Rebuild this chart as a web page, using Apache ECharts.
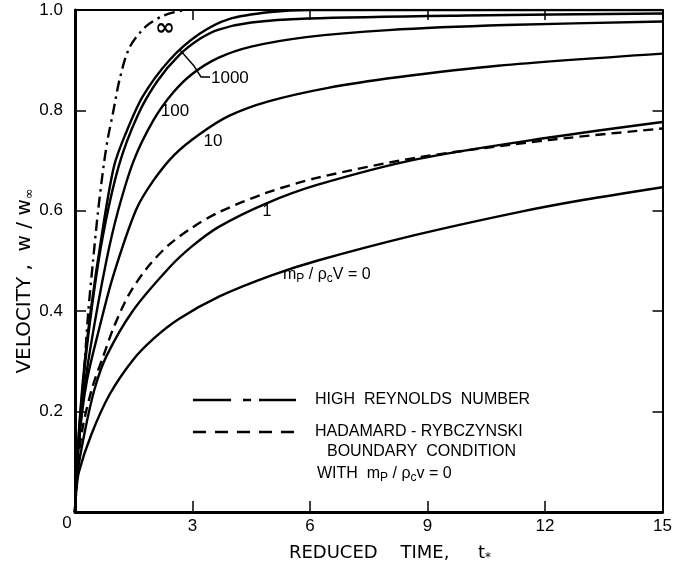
<!DOCTYPE html>
<html>
<head>
<meta charset="utf-8">
<script src="https://cdn.jsdelivr.net/npm/echarts@6/dist/echarts.min.js"></script>
<style>
html,body{margin:0;padding:0;background:#fff;}
#chart{width:675px;height:571px;}
</style>
</head>
<body>
<div id="chart"></div>
<script>
// ---- data (reduced time t*, velocity w/w_inf) ----
const xTicks = [0, 3, 6, 9, 12, 15];
const yTicks = [0, 0.2, 0.4, 0.6, 0.8, 1.0];

const highRe = [[0,0],[0.1,0.13],[0.25,0.30],[0.34,0.40],[0.46,0.50],[0.59,0.60],[0.74,0.695],[0.84,0.745],[0.97,0.795],[1.14,0.862],[1.39,0.925],[1.82,0.968],[2.3,0.99],[2.8,1.0]];
const massInf = [[0,0],[0.05,0.1],[0.2,0.26],[0.4,0.40],[0.7,0.56],[1.0,0.69],[1.3,0.755],[1.73,0.828],[2.41,0.9],[3.17,0.952],[3.93,0.982],[5,0.996],[6,1.0],[15,1.0]];
const mass1000 = [[0,0],[0.05,0.1],[0.2,0.25],[0.4,0.39],[0.7,0.545],[1.12,0.69],[1.6,0.79],[2.1,0.858],[2.66,0.91],[3.2,0.943],[3.67,0.961],[4.5,0.975],[5.95,0.983],[10,0.989],[15,0.993]];
const mass100 = [[0,0],[0.05,0.09],[0.2,0.22],[0.4,0.33],[0.8,0.50],[1.1,0.60],[1.5,0.70],[2.0,0.78],[2.5,0.835],[3.0,0.873],[3.67,0.905],[4.5,0.927],[5.9,0.946],[8,0.96],[11,0.97],[15,0.977]];
const mass10 = [[0,0],[0.1,0.14],[0.3,0.26],[0.63,0.369],[0.97,0.469],[1.56,0.602],[2.0,0.66],[2.53,0.711],[3.17,0.752],[3.93,0.789],[4.94,0.818],[6.46,0.845],[8.23,0.866],[10.8,0.889],[15,0.913]];
const mass1 = [[0,0],[0.05,0.07],[0.25,0.16],[0.5,0.245],[0.8,0.31],[1.47,0.40],[2.41,0.487],[3.0,0.53],[3.67,0.568],[4.86,0.614],[6.2,0.652],[8.74,0.703],[12.1,0.746],[15,0.777]];
const mass0 = [[0,0],[0.03,0.04],[0.1,0.08],[0.42,0.155],[0.89,0.235],[1.48,0.303],[2.0,0.345],[2.66,0.385],[3.7,0.43],[5,0.471],[6.2,0.501],[8.7,0.552],[11.3,0.597],[13,0.622],[15,0.647]];
const hadamard = [[0,0],[0.05,0.08],[0.2,0.17],[0.45,0.25],[0.72,0.31],[1.0,0.37],[1.39,0.435],[1.9,0.492],[2.41,0.533],[3.0,0.567],[3.67,0.597],[4.86,0.635],[6.2,0.666],[8.74,0.706],[12.1,0.741],[15,0.764]];

const FONT = 'Liberation Sans, Arial, sans-serif';
const TFONT = 'DejaVu Sans';
const LW = 2.4;

function curve(name, data, dash) {
  return {
    name: name, type: 'line', data: data, xAxisIndex: 0, yAxisIndex: 0,
    showSymbol: false, symbol: 'none', smooth: 0.3,
    lineStyle: { color: '#000', width: LW, type: dash || 'solid', cap: 'butt' },
    silent: true, z: 3
  };
}

const chart = echarts.init(document.getElementById('chart'), null, {renderer: 'canvas'});

const axisCommon = { type: 'value', min: 0, splitLine: { show: false } };
const sub = { fontSize: 13, fontFamily: TFONT, fill: '#000', lineHeight: 13, padding: [10,0,0,0] };

const option = {
  backgroundColor: '#fff',
  animation: false,
  grid: { left: 75, right: 8, top: 10, bottom: 59, containLabel: false },
  xAxis: [
    Object.assign({}, axisCommon, {
      max: 15, interval: 3, position: 'bottom',
      axisLine: { show: true, onZero: false, lineStyle: { color: '#000', width: 3 } },
      axisTick: { show: true, inside: true, length: 11, lineStyle: { color: '#000', width: 1.5 } },
      axisLabel: { show: true, color: '#000', fontSize: 17, fontFamily: FONT, margin: 6,
        formatter: v => (v === 0 ? '' : String(v)) }
    }),
    Object.assign({}, axisCommon, {
      max: 15, interval: 3, position: 'top',
      axisLine: { show: true, onZero: false, lineStyle: { color: '#000', width: 2 } },
      axisTick: { show: true, inside: true, length: 10, lineStyle: { color: '#000', width: 1.5 } },
      axisLabel: { show: false }
    })
  ],
  yAxis: [
    Object.assign({}, axisCommon, {
      max: 1, interval: 0.2, position: 'left',
      axisLine: { show: true, onZero: false, lineStyle: { color: '#000', width: 3 } },
      axisTick: { show: true, inside: true, length: 11, lineStyle: { color: '#000', width: 1.5 } },
      axisLabel: { show: true, color: '#000', fontSize: 17, fontFamily: FONT, margin: 12,
        formatter: v => (v === 0 ? '' : v.toFixed(1)) }
    }),
    Object.assign({}, axisCommon, {
      max: 1, interval: 0.2, position: 'right',
      axisLine: { show: true, onZero: false, lineStyle: { color: '#000', width: 2 } },
      axisTick: { show: true, inside: true, length: 10, lineStyle: { color: '#000', width: 1.5 } },
      axisLabel: { show: false }
    })
  ],
  series: [
    curve('HIGH REYNOLDS NUMBER', highRe, [11, 5, 2.5, 5]),
    curve('∞', massInf),
    curve('1000', mass1000),
    curve('100', mass100),
    curve('10', mass10),
    curve('1', mass1),
    curve('0', mass0),
    curve('HADAMARD - RYBCZYNSKI', hadamard, [10, 6])
  ],
  graphic: [
    { type: 'text', x: 67, y: 523, style: { text: '0', font: '17px ' + FONT, fill: '#000', textAlign: 'center', textVerticalAlign: 'middle' } },
    { type: 'text', x: 390, y: 553, style: {
        text: '{a|REDUCED    TIME,     t}{s|*}', textAlign: 'center', textVerticalAlign: 'middle',
        rich: { a: { fontSize: 18, fontFamily: TFONT, fill: '#000', lineHeight: 22 },
                s: { fontSize: 12, fontFamily: TFONT, fill: '#000', lineHeight: 12, padding: [9,0,0,0] } } } },
    { type: 'text', x: 25, y: 281, rotation: Math.PI / 2, style: {
        text: '{a|VELOCITY ,  w / w}{s|∞}', textAlign: 'center', textVerticalAlign: 'middle',
        rich: { a: { fontSize: 20, fontFamily: TFONT, fill: '#000', lineHeight: 23 }, s: sub } } },
    { type: 'text', x: 165, y: 29, style: { text: '∞', font: 'bold 24px DejaVu Sans', fill: '#000', textAlign: 'center', textVerticalAlign: 'middle' } },
    { type: 'polyline', shape: { points: [[180, 50], [194, 66], [201, 77], [210, 77]] }, style: { stroke: '#000', lineWidth: 1.4, fill: null } },
    { type: 'text', x: 211, y: 78, style: { text: '1000', font: '17px ' + FONT, fill: '#000', textAlign: 'left', textVerticalAlign: 'middle' } },
    { type: 'text', x: 175, y: 111, style: { text: '100', font: '17px ' + FONT, fill: '#000', textAlign: 'center', textVerticalAlign: 'middle' } },
    { type: 'text', x: 213, y: 141, style: { text: '10', font: '17px ' + FONT, fill: '#000', textAlign: 'center', textVerticalAlign: 'middle' } },
    { type: 'text', x: 267, y: 212, style: { text: '1', font: '16px ' + FONT, fill: '#000', textAlign: 'center', textVerticalAlign: 'middle' } },
    { type: 'text', x: 283, y: 275, style: {
        text: '{a|m}{s|P}{a| / ρ}{s|c}{a|V = 0}', textAlign: 'left', textVerticalAlign: 'middle',
        rich: { a: { fontSize: 16, fontFamily: FONT, fill: '#000', lineHeight: 18 },
                s: { fontSize: 12, fontFamily: FONT, fill: '#000', lineHeight: 11, padding: [7,0,0,0] } } } },
    { type: 'line', shape: { x1: 193, y1: 400, x2: 296, y2: 400 }, style: { stroke: '#000', lineWidth: LW, lineDash: [38, 12, 8, 8] } },
    { type: 'text', x: 315, y: 400, style: { text: 'HIGH  REYNOLDS  NUMBER', font: '16px ' + FONT, fill: '#000', textAlign: 'left', textVerticalAlign: 'middle' } },
    { type: 'line', shape: { x1: 193, y1: 432, x2: 296, y2: 432 }, style: { stroke: '#000', lineWidth: LW, lineDash: [13, 9] } },
    { type: 'text', x: 315, y: 432, style: { text: 'HADAMARD - RYBCZYNSKI', font: '16px ' + FONT, fill: '#000', textAlign: 'left', textVerticalAlign: 'middle' } },
    { type: 'text', x: 327, y: 452, style: { text: 'BOUNDARY  CONDITION', font: '16px ' + FONT, fill: '#000', textAlign: 'left', textVerticalAlign: 'middle' } },
    { type: 'text', x: 317, y: 474, style: {
        text: '{a|WITH  m}{s|P}{a| / ρ}{s|c}{a|v = 0}', textAlign: 'left', textVerticalAlign: 'middle',
        rich: { a: { fontSize: 16, fontFamily: FONT, fill: '#000', lineHeight: 18 },
                s: { fontSize: 12, fontFamily: FONT, fill: '#000', lineHeight: 11, padding: [7,0,0,0] } } } }
  ]
};
chart.setOption(option);
</script>
</body>
</html>
